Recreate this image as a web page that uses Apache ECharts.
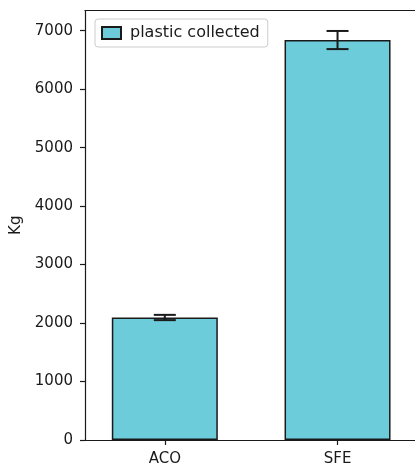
<!DOCTYPE html>
<html>
<head>
<meta charset="utf-8">
<script src="https://cdn.jsdelivr.net/npm/echarts@6/dist/echarts.min.js"></script>
<style>
  html, body { margin: 0; padding: 0; background: #fff; }
  #chart { width: 415px; height: 468px; }
</style>
</head>
<body>
<div id="chart"></div>
<script>
// Plastic collected per site, with error bars
const categories = ['ACO', 'SFE'];
const collected = [2095, 6840];
const errors = [45, 155];
const yTicks = [0, 1000, 2000, 3000, 4000, 5000, 6000, 7000];
const seriesName = 'plastic collected';

const FONT = 'DejaVu Sans';
const INK = '#1a1a1a';

const barData = collected.map((v, i) => [i, v]);
const errData = collected.map((v, i) => [i, v - errors[i], v + errors[i]]);

const chart = echarts.init(document.getElementById('chart'), null, { renderer: 'canvas' });

chart.setOption({
  animation: false,
  backgroundColor: '#ffffff',
  grid: { left: 85, top: 10.5, width: 332, height: 429.5, containLabel: false, outerBoundsMode: 'none' },
  legend: {
    left: 95, top: 19,
    padding: [6, 8, 6, 6],
    itemWidth: 19, itemHeight: 12, itemGap: 8,
    icon: 'rect',
    backgroundColor: '#ffffff',
    borderColor: '#cccccc', borderWidth: 1, borderRadius: 3,
    textStyle: { fontFamily: FONT, fontSize: 16, color: INK, padding: [0, 0, 0, 4] },
    data: [seriesName]
  },
  xAxis: [{
    type: 'value',
    min: -0.462, max: 1.46,
    axisLine: { show: true, onZero: false, lineStyle: { color: INK, width: 1.2 } },
    axisTick: { show: true, inside: false, length: 5, lineStyle: { color: INK, width: 1.2 }, customValues: [0, 1] },
    axisLabel: {
      customValues: [0, 1],
      formatter: v => categories[Math.round(v)] || '',
      fontFamily: FONT, fontSize: 15, color: INK, margin: 12
    },
    splitLine: { show: false }
  }, {
    type: 'value', position: 'top',
    min: -0.462, max: 1.46,
    axisLine: { show: true, onZero: false, lineStyle: { color: INK, width: 1.2 } },
    axisTick: { show: false }, axisLabel: { show: false }, splitLine: { show: false }
  }],
  yAxis: {
    type: 'value',
    min: 0, max: 7345,
    name: 'Kg', nameLocation: 'middle', nameGap: 60, nameRotate: 90,
    nameTextStyle: { fontFamily: FONT, fontSize: 15, color: INK },
    axisLine: { show: true, onZero: false, lineStyle: { color: INK, width: 1.2 } },
    axisTick: { show: true, inside: false, length: 5, lineStyle: { color: INK, width: 1.2 }, customValues: yTicks },
    axisLabel: {
      customValues: yTicks,
      formatter: v => String(v),
      fontFamily: FONT, fontSize: 15, color: INK, margin: 12
    },
    splitLine: { show: false }
  },
  series: [{
    name: seriesName,
    type: 'bar',
    data: barData,
    barWidth: 106,
    itemStyle: { color: '#6CCCDA', borderColor: INK, borderWidth: 1.5 },
    z: 2
  }, {
    type: 'custom',
    data: errData,
    z: 5,
    renderItem: (params, api) => {
      const x = api.value(0);
      const lo = api.coord([x, api.value(1)]);
      const hi = api.coord([x, api.value(2)]);
      const half = 11;
      const style = { stroke: INK, lineWidth: 2, fill: null };
      return {
        type: 'group',
        children: [
          { type: 'line', shape: { x1: lo[0], y1: lo[1], x2: hi[0], y2: hi[1] }, style },
          { type: 'line', shape: { x1: lo[0] - half, y1: lo[1], x2: lo[0] + half, y2: lo[1] }, style },
          { type: 'line', shape: { x1: hi[0] - half, y1: hi[1], x2: hi[0] + half, y2: hi[1] }, style }
        ]
      };
    }
  }]
});
</script>
</body>
</html>
